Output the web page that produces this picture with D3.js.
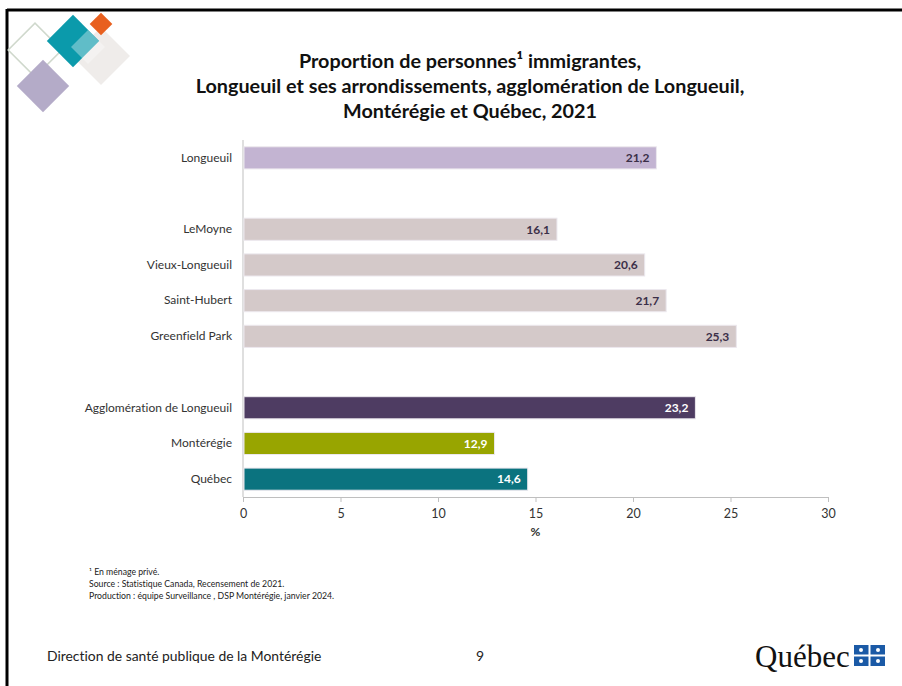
<!DOCTYPE html>
<html>
<head>
<meta charset="utf-8">
<script src="https://cdn.jsdelivr.net/npm/d3@7"></script>
<style>
  body { margin: 0; background: #fff; }
  svg { display: block; font-family: Lato, "Open Sans", sans-serif; font-variant-ligatures: none; }
</style>
</head>
<body>
<svg id="chart" width="902" height="686"></svg>
<script>
// donnees du graphique
const slots = ["Longueuil", "_gap1", "LeMoyne", "Vieux-Longueuil", "Saint-Hubert", "Greenfield Park",
               "_gap2", "Agglomération de Longueuil", "Montérégie", "Québec"];
const categories = ["Longueuil", "LeMoyne", "Vieux-Longueuil", "Saint-Hubert", "Greenfield Park",
                    "Agglomération de Longueuil", "Montérégie", "Québec"];
const values = [21.2, 16.1, 20.6, 21.7, 25.3, 23.2, 12.9, 14.6];
const barColors = ["#c3b4d2", "#d4c9c9", "#d4c9c9", "#d4c9c9", "#d4c9c9", "#4e3c62", "#98a500", "#0b737f"];
const labelColors = ["#3b2f48", "#3b2f48", "#3b2f48", "#3b2f48", "#3b2f48", "#fff", "#fff", "#fff"];
const xTicks = [0, 5, 10, 15, 20, 25, 30];

const titleLines = ["Proportion de personnes¹ immigrantes,",
                    "Longueuil et ses arrondissements, agglomération de Longueuil,",
                    "Montérégie et Québec, 2021"];
const notes = ["¹ En ménage privé.",
               "Source : Statistique Canada, Recensement de 2021.",
               "Production : équipe Surveillance , DSP Montérégie, janvier 2024."];

const svg = d3.select("#chart");

// cadre
svg.append("line").attr("x1", 7).attr("x2", 902).attr("y1", 10).attr("y2", 10)
  .attr("stroke", "#000").attr("stroke-width", 3);
svg.append("line").attr("x1", 7).attr("x2", 7).attr("y1", 9).attr("y2", 686)
  .attr("stroke", "#000").attr("stroke-width", 3);

// carres decoratifs
const deco = [
  { cx: 35, cy: 50, s: 38, fill: "none", stroke: "#cfd8cc", op: 1 },
  { cx: 43, cy: 86, s: 37, fill: "#b4abc8", stroke: "none", op: 1 },
  { cx: 101, cy: 56, s: 41, fill: "#ebe7e5", stroke: "none", op: 0.8 },
  { cx: 73, cy: 41, s: 37, fill: "#0b9aab", stroke: "none", op: 1 },
  { cx: 101, cy: 24, s: 16, fill: "#e8601f", stroke: "none", op: 1 }
];
svg.append("g").selectAll("rect").data(deco).join("rect")
  .attr("x", d => -d.s / 2).attr("y", d => -d.s / 2)
  .attr("width", d => d.s).attr("height", d => d.s)
  .attr("transform", d => `translate(${d.cx},${d.cy}) rotate(45)`)
  .attr("fill", d => d.fill).attr("stroke", d => d.stroke).attr("stroke-width", 1.5)
  .attr("opacity", d => d.op);
// chevauchement clair sur le carre turquoise
svg.append("rect").attr("x", -12).attr("y", -12).attr("width", 24).attr("height", 24)
  .attr("transform", "translate(88,47) rotate(45)")
  .attr("fill", "#ffffff").attr("opacity", 0.35);

// titre
svg.append("g").selectAll("text").data(titleLines).join("text")
  .attr("x", 470).attr("y", (d, i) => 68 + i * 25)
  .attr("text-anchor", "middle")
  .attr("font-size", 19.8).attr("font-weight", "bold").attr("fill", "#111")
  .text(d => d);

// echelles
const margin = { left: 243, right: 828, top: 140, bottom: 497 };
const x = d3.scaleLinear().domain([0, 30]).range([margin.left, margin.right]);
const y = d3.scaleBand().domain(slots).range([margin.top, margin.bottom])
  .paddingInner(0.38).paddingOuter(0.19);

// axe x
const xAxis = svg.append("g")
  .attr("transform", `translate(0,${margin.bottom})`)
  .call(d3.axisBottom(x).tickValues(xTicks).tickSize(5).tickSizeOuter(0));
xAxis.select(".domain").attr("stroke", "#bfbfbf");
xAxis.selectAll(".tick line").attr("stroke", "#bfbfbf");
xAxis.selectAll(".tick text").attr("font-size", 12.5).attr("fill", "#333")
  .attr("font-family", "Lato, sans-serif").attr("dy", "1.05em");

svg.append("text").attr("x", x(15)).attr("y", 536)
  .attr("text-anchor", "middle").attr("font-size", 12).attr("font-weight", "bold")
  .attr("fill", "#333").text("%");

// axe y
const yAxis = svg.append("g")
  .attr("transform", `translate(${margin.left},0)`)
  .call(d3.axisLeft(y).tickSize(0).tickPadding(11)
    .tickFormat(d => d.startsWith("_") ? "" : d));
yAxis.select(".domain").attr("stroke", "#bfbfbf").attr("d", `M0,${margin.top}V${margin.bottom}`);
yAxis.selectAll(".tick text").attr("font-size", 12).attr("fill", "#333")
  .attr("font-family", "Lato, sans-serif");

// barres
const rows = categories.map((c, i) => ({ c, v: values[i], color: barColors[i], lc: labelColors[i] }));
svg.append("g").selectAll("rect").data(rows).join("rect")
  .attr("x", x(0) + 1)
  .attr("y", d => y(d.c))
  .attr("width", d => x(d.v) - x(0) - 1)
  .attr("height", y.bandwidth())
  .attr("fill", d => d.color)
  .attr("stroke", "#ece8ee").attr("stroke-width", 1);

svg.append("g").selectAll("text").data(rows).join("text")
  .attr("x", d => x(d.v) - 7)
  .attr("y", d => y(d.c) + y.bandwidth() / 2)
  .attr("dy", "0.36em")
  .attr("text-anchor", "end")
  .attr("font-size", 12).attr("font-weight", "bold")
  .attr("fill", d => d.lc)
  .text(d => d3.format(".1f")(d.v).replace(".", ","));

// notes
svg.append("g").selectAll("text").data(notes).join("text")
  .attr("x", 89).attr("y", (d, i) => 575 + i * 12)
  .attr("font-size", 8.7).attr("fill", "#222")
  .text(d => d);

// pied de page
svg.append("text").attr("x", 47).attr("y", 661)
  .attr("font-size", 13.9).attr("fill", "#222")
  .text("Direction de santé publique de la Montérégie");
svg.append("text").attr("x", 476).attr("y", 661)
  .attr("font-size", 13.9).attr("fill", "#222").text("9");

// logo Quebec
svg.append("text").attr("x", 755).attr("y", 667)
  .attr("font-family", "'Liberation Serif', 'DejaVu Serif', serif")
  .attr("font-size", 31).attr("fill", "#111").text("Québec");
const flag = svg.append("g").attr("transform", "translate(854,645)");
flag.append("rect").attr("width", 31).attr("height", 21).attr("fill", "#1b5aa6");
flag.append("rect").attr("x", 14.5).attr("width", 2).attr("height", 21).attr("fill", "#fff");
flag.append("rect").attr("y", 9.5).attr("width", 31).attr("height", 2).attr("fill", "#fff");
[[7, 5], [24, 5], [7, 16], [24, 16]].forEach(p => {
  flag.append("circle").attr("cx", p[0]).attr("cy", p[1]).attr("r", 2).attr("fill", "#fff");
});
</script>
</body>
</html>
